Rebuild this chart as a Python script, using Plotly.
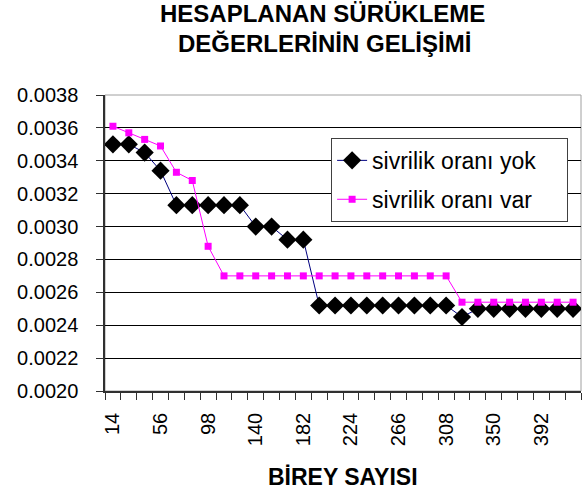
import plotly.graph_objects as go

birey = [14 * (i + 1) for i in range(30)]
tick_labels = [14, 56, 98, 140, 182, 224, 266, 308, 350, 392]

yok = [0.00350, 0.00350, 0.00345, 0.00334, 0.00313, 0.00313, 0.00313, 0.00313, 0.00313, 0.00300,
       0.00300, 0.00292, 0.00292, 0.00252, 0.00252, 0.00252, 0.00252, 0.00252, 0.00252, 0.00252,
       0.00252, 0.00252, 0.00245, 0.00250, 0.00250, 0.00250, 0.00250, 0.00250, 0.00250, 0.00250]
var = [0.00361, 0.00357, 0.00353, 0.00349, 0.00333, 0.00328, 0.00288, 0.00270, 0.00270, 0.00270,
       0.00270, 0.00270, 0.00270, 0.00270, 0.00270, 0.00270, 0.00270, 0.00270, 0.00270, 0.00270,
       0.00270, 0.00270, 0.00254, 0.00254, 0.00254, 0.00254, 0.00254, 0.00254, 0.00254, 0.00254]

FONT = "Liberation Sans, Arial, sans-serif"
PAD = "\u00a0\u00a0\u00a0\u00a0"

fig = go.Figure()
fig.add_trace(go.Scatter(
    x=birey, y=yok, name="sivrilik oranı yok" + PAD, mode="lines+markers",
    line=dict(color="#000080", width=1),
    marker=dict(symbol="diamond", size=14, color="#000000"),
    legendgroup="a"))
fig.add_trace(go.Scatter(
    x=birey, y=var, name="sivrilik oranı var" + PAD, mode="lines+markers",
    line=dict(color="#FF00FF", width=1),
    marker=dict(symbol="square", size=7, color="#FF00FF"),
    legendgroup="b"))

def py(y):
    return (391 - y) / 296

fig.update_layout(
    width=583, height=491,
    margin=dict(l=105, r=2, t=95, b=100),
    paper_bgcolor="white", plot_bgcolor="white",
    font=dict(family=FONT, color="black"),
    legend=dict(x=0.475, y=0.855, xanchor="left", yanchor="top",
                bgcolor="white", bordercolor="#404040", borderwidth=1,
                font=dict(size=23, family=FONT, color="black"),
                tracegroupgap=6),
    showlegend=True,
    shapes=[dict(type="rect", xref="paper", yref="paper", x0=0, x1=1, y0=0, y1=1,
                 line=dict(color="#A0A0A0", width=1), layer="below")],
    annotations=[
        dict(text="<b>HESAPLANAN SÜRÜKLEME</b>", xref="paper", yref="paper",
             x=(322 - 105) / 476, y=py(14), xanchor="center", yanchor="middle",
             showarrow=False, font=dict(size=24, family=FONT, color="black")),
        dict(text="<b>DEĞERLERİNİN GELİŞİMİ</b>", xref="paper", yref="paper",
             x=(324 - 105) / 476, y=py(44), xanchor="center", yanchor="middle",
             showarrow=False, font=dict(size=24, family=FONT, color="black")),
        dict(text="<b>BİREY SAYISI</b>", xref="paper", yref="paper",
             x=0.5, y=py(477), xanchor="center", yanchor="middle",
             showarrow=False, font=dict(size=23, family=FONT, color="black")),
    ],
)

fig.update_xaxes(
    range=[7, 427], tickmode="array", tickvals=tick_labels,
    ticktext=[str(t) for t in tick_labels], tickangle=-90,
    ticks="outside", ticklen=12, tickcolor="rgba(0,0,0,0)",
    tickfont=dict(size=20, family=FONT, color="black"),
    showgrid=False, zeroline=False,
    showline=True, linecolor="#303030", linewidth=1.5,
    minor=dict(tick0=7, dtick=14, ticks="outside", ticklen=7, tickcolor="#303030", showgrid=False),
)
fig.update_yaxes(
    range=[0.0020, 0.0038], dtick=0.0002, tick0=0.0020, tickformat=".4f",
    ticks="outside", ticklen=7, tickcolor="#303030", ticklabelstandoff=14,
    tickfont=dict(size=20, family=FONT, color="black"),
    showgrid=True, gridcolor="#000000", gridwidth=1, zeroline=False,
    showline=True, linecolor="#303030", linewidth=1.5,
)

fig.write_html("out.html", config={"displayModeBar": False},
               post_script="document.body.style.margin='0';")
